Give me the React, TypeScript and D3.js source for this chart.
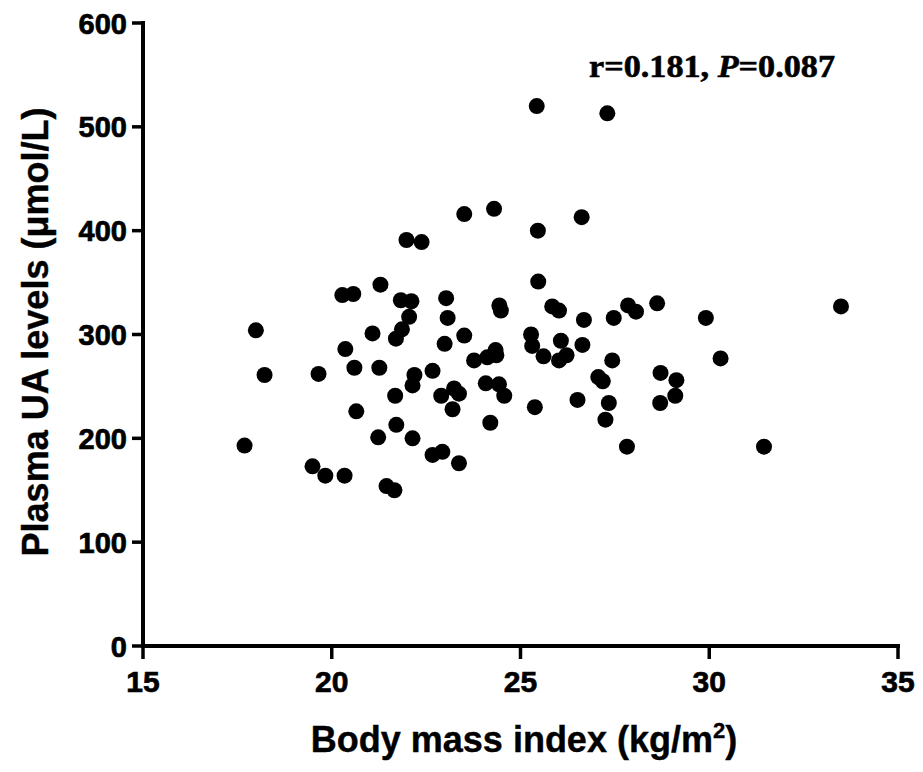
import React from "react";
import * as d3 from "d3";

const bmi = [
  17.69, 17.99, 18.22, 19.49, 19.83, 19.65, 20.34, 20.28, 20.57, 20.36,
  20.6, 20.65, 21.08, 21.29, 21.26, 21.23, 21.45, 21.66, 21.83, 21.7,
  21.68, 21.71, 23.51, 24.3, 26.62, 25.46, 21.98, 22.38, 25.47, 22.11,
  23.03, 24.44, 24.48, 25.84, 26.02, 27.85, 28.06, 28.62, 26.68, 27.47,
  22.05, 23.07, 21.86, 23.51, 22.99, 25.28, 25.31, 26.07, 26.64, 25.61,
  26.02, 26.22, 23.77, 24.12, 24.34, 24.36, 27.43, 22.67, 22.19, 22.14,
  27.06, 27.18, 28.71, 29.13, 22.9, 23.24, 23.37, 24.08, 24.43, 24.57,
  25.38, 26.51, 27.34, 28.7, 29.1, 23.2, 24.2, 27.25, 22.14, 27.82,
  22.67, 22.93, 23.37, 27.3, 25.43, 33.49, 29.91, 30.3, 31.45,
];
const ua = [
  193, 304, 261, 173, 164, 262, 164, 338, 339, 286,
  268, 226, 301, 348, 268, 201, 154, 150, 333, 296,
  241, 213, 416, 421, 413, 400, 391, 389, 351, 332,
  335, 328, 323, 327, 323, 328, 322, 330, 314, 316,
  317, 316, 305, 299, 291, 300, 289, 294, 290, 279,
  275, 280, 275, 278, 285, 280, 275, 265, 261, 251,
  259, 255, 263, 256, 241, 248, 243, 253, 252, 241,
  230, 237, 234, 234, 241, 228, 215, 218, 200, 192,
  184, 187, 176, 513, 520, 327, 316, 277, 192,
];
const xTicks = [15, 20, 25, 30, 35];
const yTicks = [0, 100, 200, 300, 400, 500, 600];

const W = 923;
const H = 772;
const sans = "'Liberation Sans', Arial, Helvetica, sans-serif";
const serif = "'Liberation Serif', 'Times New Roman', serif";

export default function App() {
  const x = d3.scaleLinear().domain([15, 35]).range([143, 898]);
  const y = d3.scaleLinear().domain([0, 600]).range([646, 23]);
  const pts = bmi.map((b, i) => ({ b, u: ua[i] }));
  return (
    <svg
      width={W}
      height={H}
      style={{ position: "absolute", left: 0, top: 0, background: "#fff" }}
    >
      <rect x={0} y={0} width={W} height={H} fill="#fff" />
      {/* axes */}
      <line x1={x(15) - 2} x2={x(35) + 2} y1={y(0)} y2={y(0)} stroke="#000" strokeWidth={4} />
      <line x1={x(15)} x2={x(15)} y1={y(0) + 2} y2={y(600) - 2} stroke="#000" strokeWidth={4} />
      {xTicks.map((t) => (
        <g key={"xt" + t}>
          <line x1={x(t)} x2={x(t)} y1={y(0)} y2={y(0) + 13} stroke="#000" strokeWidth={3.5} />
          <text
            x={x(t)}
            y={692}
            textAnchor="middle"
            fontFamily={sans}
            fontWeight="bold"
            fontSize={30}
            stroke="#000"
            strokeWidth={0.7}
            fill="#000"
          >
            {t}
          </text>
        </g>
      ))}
      {yTicks.map((t) => (
        <g key={"yt" + t}>
          <line x1={x(15) - 11} x2={x(15)} y1={y(t)} y2={y(t)} stroke="#000" strokeWidth={3.5} />
          <text
            x={127}
            y={y(t) + 10.5}
            textAnchor="end"
            fontFamily={sans}
            fontWeight="bold"
            fontSize={29}
            stroke="#000"
            strokeWidth={0.7}
            fill="#000"
          >
            {t}
          </text>
        </g>
      ))}
      {/* points */}
      {pts.map((p, i) => (
        <circle key={i} cx={x(p.b)} cy={y(p.u)} r={8} fill="#000" />
      ))}
      {/* titles */}
      <text
        x={524}
        y={752}
        textAnchor="middle"
        fontFamily={sans}
        fontWeight="bold"
        fontSize={36}
        stroke="#000"
        strokeWidth={0.4}
        fill="#000"
      >
        Body mass index (kg/m
        <tspan fontSize={22} dy={-14}>2</tspan>
        <tspan dy={14}>)</tspan>
      </text>
      <text
        transform={`translate(48, 332) rotate(-90)`}
        textAnchor="middle"
        fontFamily={sans}
        fontWeight="bold"
        fontSize={36}
        stroke="#000"
        strokeWidth={0.4}
        fill="#000"
      >
        Plasma UA levels (μmol/L)
      </text>
      <text
        x={589}
        y={77}
        fontFamily={serif}
        fontWeight="bold"
        fontSize={32}
        textLength={246}
        lengthAdjust="spacingAndGlyphs"
        stroke="#000"
        strokeWidth={0.6}
        fill="#000"
      >
        r=0.181, <tspan fontStyle="italic">P</tspan>=0.087
      </text>
    </svg>
  );
}
